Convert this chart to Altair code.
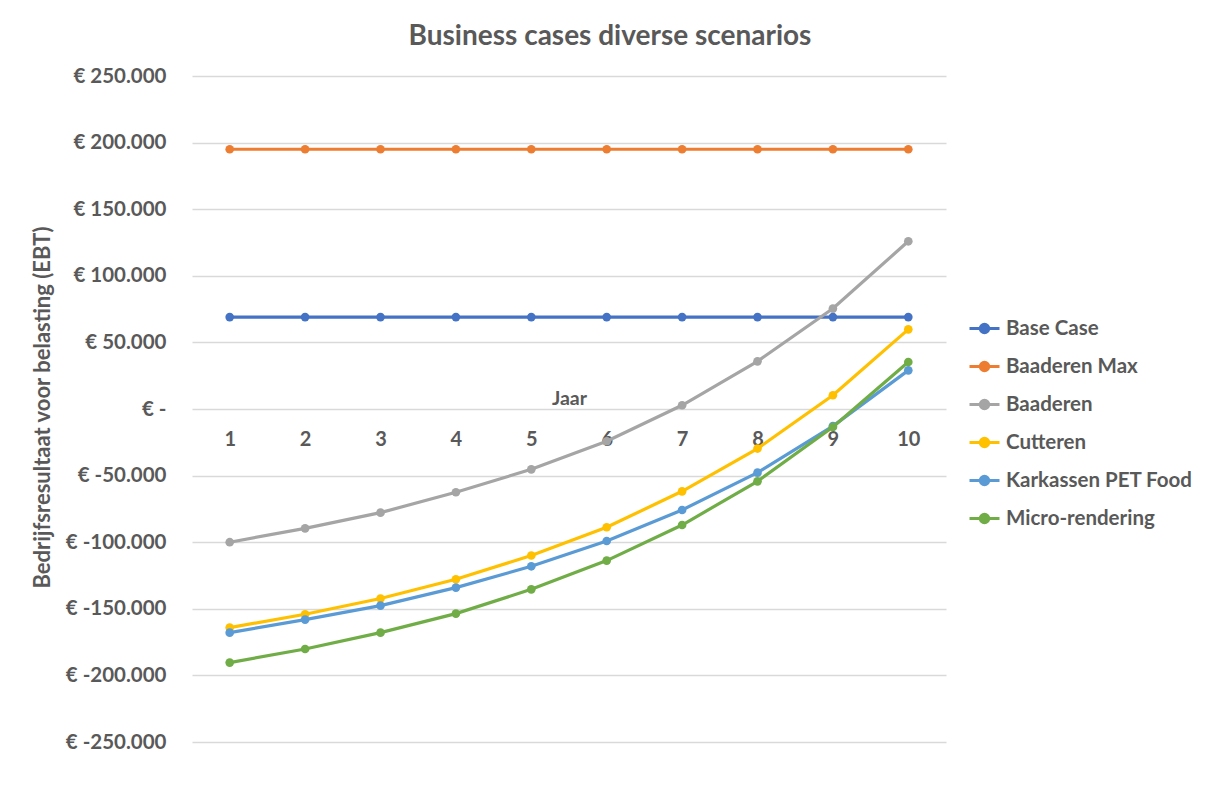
import altair as alt
import pandas as pd

years = [1, 2, 3, 4, 5, 6, 7, 8, 9, 10]
series_names = ["Base Case", "Baaderen Max", "Baaderen", "Cutteren", "Karkassen PET Food", "Micro-rendering"]
colors = ["#4472C4", "#ED7D31", "#A5A5A5", "#FFC000", "#5B9BD5", "#70AD47"]

base_case = [69000] * 10
baaderen_max = [195000] * 10
baaderen = [-100000, -89600, -77800, -62500, -45300, -24200, 2800, 35800, 75400, 125900]
cutteren = [-164100, -154100, -142300, -127800, -110000, -88800, -61800, -29700, 10300, 59800]
karkassen = [-167900, -158100, -147600, -134100, -118100, -99100, -75800, -47800, -12800, 29000]
micro = [-190400, -180200, -167900, -153600, -135400, -113800, -87100, -54300, -13500, 35300]

values = [base_case, baaderen_max, baaderen, cutteren, karkassen, micro]

rows = []
for name, vals in zip(series_names, values):
    for y, v in zip(years, vals):
        rows.append({"Jaar": y, "Waarde": v, "Scenario": name})
df = pd.DataFrame(rows)

FONT = "Lato"
GREY = "#595959"

color_scale = alt.Scale(domain=series_names, range=colors)

legend_symbol = "M-1,0L1,0M0.28,0A0.28,0.28 0 1,1 -0.28,0A0.28,0.28 0 1,1 0.28,0Z"

x_enc = alt.X(
    "Jaar:Q",
    scale=alt.Scale(domain=[0.5, 10.5], nice=False, zero=False),
    axis=alt.Axis(
        values=years,
        format="d",
        grid=False,
        domain=False,
        ticks=False,
        offset=-333,
        labelPadding=20,
        labelFont=FONT,
        labelFontSize=20,
        labelFontWeight="bold",
        labelColor=GREY,
        title="Jaar",
        titleFont=FONT,
        titleFontSize=19.5,
        titleFontWeight="bold",
        titleColor=GREY,
        titleY=-11,
        titleBaseline="middle",
    ),
)

label_expr = ("datum.value == 0 ? '€ -' : '€ ' + (datum.value < 0 ? '-' : '') + "
              "replace(format(abs(datum.value), ','), ',', '.')")

y_enc = alt.Y(
    "Waarde:Q",
    scale=alt.Scale(domain=[-250000, 250000], nice=False),
    axis=alt.Axis(
        values=[-250000, -200000, -150000, -100000, -50000, 0, 50000, 100000, 150000, 200000, 250000],
        labelExpr=label_expr,
        grid=True,
        gridColor="#D9D9D9",
        gridWidth=1.3,
        domain=False,
        ticks=False,
        labelPadding=26,
        labelFont=FONT,
        labelFontSize=20.5,
        labelFontWeight="bold",
        labelColor=GREY,
        title="Bedrijfsresultaat voor belasting (EBT)",
        titleFont=FONT,
        titleFontSize=22,
        titleFontWeight="bold",
        titleColor=GREY,
        titleX=-150,
        titleY=331,
        titleAngle=-90,
        titleBaseline="middle",
        titleAlign="center",
    ),
)

legend = alt.Legend(
    title=None,
    orient="none",
    legendX=776,
    legendY=236,
    symbolType=legend_symbol,
    symbolSize=900,
    symbolStrokeWidth=3,
    labelFont=FONT,
    labelFontSize=20.5,
    labelFontWeight="bold",
    labelColor=GREY,
    rowPadding=11,
    labelOffset=5,
    labelLimit=300,
)

layers = []
for i, name in enumerate(series_names):
    sub = alt.Chart(df).transform_filter(alt.datum.Scenario == name)
    line = sub.mark_line(strokeWidth=3.2).encode(
        x=x_enc, y=y_enc,
        color=alt.Color("Scenario:N", scale=color_scale, legend=legend if i == 0 else None),
    )
    pts = sub.mark_point(filled=True, size=75, opacity=1).encode(
        x=x_enc, y=y_enc,
        color=alt.Color("Scenario:N", scale=color_scale, legend=None),
    )
    layers += [line, pts]

chart = alt.layer(*layers).properties(
    width=754,
    height=666,
    title=alt.Title(
        "Business cases diverse scenarios",
        font=FONT, fontSize=28, fontWeight="bold", color=GREY,
        anchor="middle", dx=41, offset=15,
    ),
    autosize=alt.AutoSizeParams(type="none"),
    padding={"left": 192, "top": 76, "right": 264, "bottom": 45},
).configure(background="white").configure_view(stroke="transparent", strokeWidth=0)

chart.save("out.html", embed_options={"renderer": "svg", "actions": False})
